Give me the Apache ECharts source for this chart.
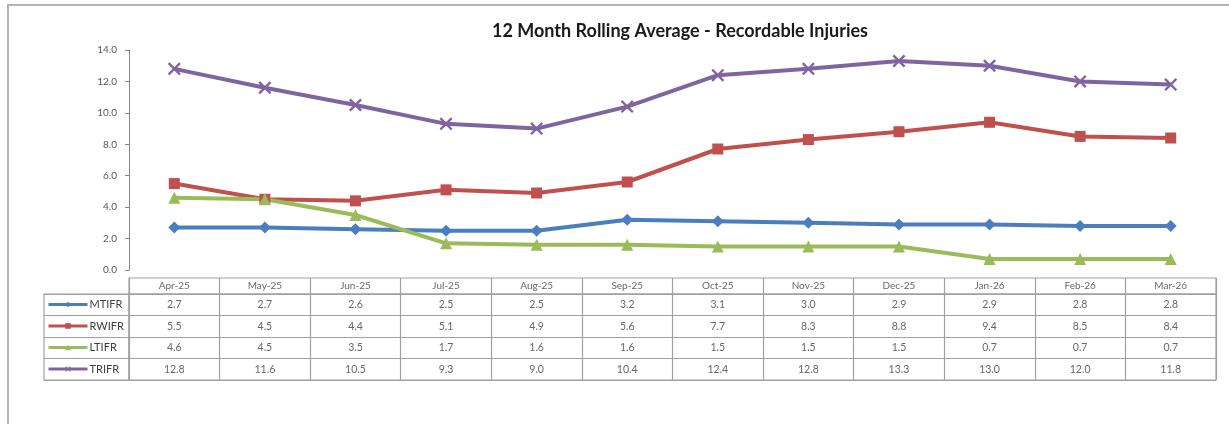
<!DOCTYPE html>
<html>
<head>
<meta charset="utf-8">
<script src="https://cdn.jsdelivr.net/npm/echarts@6/dist/echarts.min.js"></script>
<style>
  html, body { margin: 0; padding: 0; background: #fff; overflow: hidden; }
  #frame { position: absolute; left: 7px; top: 4px; width: 1400px; height: 600px; border: 2px solid #b4b4b4; }
  #chart { position: absolute; left: 0; top: 0; width: 1229px; height: 424px; }
</style>
</head>
<body>
<div id="frame"></div>
<div id="chart"></div>
<script>
// data
const months = ['Apr-25', 'May-25', 'Jun-25', 'Jul-25', 'Aug-25', 'Sep-25', 'Oct-25', 'Nov-25', 'Dec-25', 'Jan-26', 'Feb-26', 'Mar-26'];
const seriesNames = ['MTIFR', 'RWIFR', 'LTIFR', 'TRIFR'];
const mtifr = [2.7, 2.7, 2.6, 2.5, 2.5, 3.2, 3.1, 3.0, 2.9, 2.9, 2.8, 2.8];
const rwifr = [5.5, 4.5, 4.4, 5.1, 4.9, 5.6, 7.7, 8.3, 8.8, 9.4, 8.5, 8.4];
const ltifr = [4.6, 4.5, 3.5, 1.7, 1.6, 1.6, 1.5, 1.5, 1.5, 0.7, 0.7, 0.7];
const trifr = [12.8, 11.6, 10.5, 9.3, 9.0, 10.4, 12.4, 12.8, 13.3, 13.0, 12.0, 11.8];

const allValues = [mtifr, rwifr, ltifr, trifr];
const colors = ['#4a7ebf', '#c0504d', '#9bbb59', '#8064a2'];
const symbols = ['diamond', 'rect', 'triangle',
  'path://M0,1.3L1.3,0L5,3.7L8.7,0L10,1.3L6.3,5L10,8.7L8.7,10L5,6.3L1.3,10L0,8.7L3.7,5Z'];
const symbolSizes = [12, 11, 12, 13];

const FONT = 'Lato';
const gridLine = '#a0a0a0';

var myChart = echarts.init(document.getElementById('chart'));

// table cells: [column, row, value]
let cells = [];
allValues.forEach(function (arr, r) {
  arr.forEach(function (v, c) { cells.push([c, r, v]); });
});

let lineSeries = seriesNames.map(function (name, i) {
  return {
    name: name,
    type: 'line',
    xAxisIndex: 0,
    yAxisIndex: 0,
    data: allValues[i],
    symbol: symbols[i],
    symbolSize: symbolSizes[i],
    lineStyle: { width: 4, color: colors[i] },
    itemStyle: { color: colors[i] },
    emphasis: { disabled: true },
    animation: false
  };
});

var option = {
  backgroundColor: 'transparent',
  textStyle: { fontFamily: FONT },
  title: {
    text: '12 Month Rolling Average - Recordable Injuries',
    left: 675,
    top: 17,
    textAlign: 'center',
    textStyle: { fontFamily: FONT, fontSize: 18, fontWeight: 'bold', color: '#1a1a1a' }
  },
  legend: {
    data: seriesNames,
    orient: 'vertical',
    left: 47,
    top: 299,
    padding: 0,
    itemWidth: 39,
    itemHeight: 7,
    itemGap: 10.5,
    selectedMode: false,
    lineStyle: { width: 3 },
    textStyle: { fontFamily: FONT, fontSize: 11, color: '#404040', padding: [0, 0, 0, -3] }
  },
  grid: [
    { left: 129, right: 13, top: 50, bottom: 154 },
    { left: 129, right: 13, top: 278, height: 16, show: true, borderColor: gridLine, borderWidth: 1.2 },
    { left: 129, right: 13, top: 294, height: 86, show: true, borderColor: gridLine, borderWidth: 1.2 },
    { left: 44, width: 85, top: 294, height: 86, show: true, borderColor: gridLine, borderWidth: 1.2 }
  ],
  xAxis: [
    { gridIndex: 0, type: 'category', data: months, boundaryGap: true, show: false },
    { gridIndex: 1, type: 'category', data: months, boundaryGap: true,
      axisLine: { show: false }, axisTick: { show: false }, axisLabel: { show: false },
      splitLine: { show: true, lineStyle: { color: gridLine, width: 1.2 } } },
    { gridIndex: 2, type: 'category', data: months, boundaryGap: true,
      axisLine: { show: false }, axisTick: { show: false }, axisLabel: { show: false },
      splitLine: { show: true, lineStyle: { color: gridLine, width: 1.2 } } },
    { gridIndex: 3, type: 'category', data: [''], show: false }
  ],
  yAxis: [
    { gridIndex: 0, type: 'value', min: 0, max: 14, interval: 2,
      axisLine: { show: true, lineStyle: { color: '#868686', width: 1 } },
      axisTick: { show: true, length: 4, lineStyle: { color: '#868686' } },
      splitLine: { show: false },
      axisLabel: { margin: 12, fontFamily: FONT, fontSize: 10, color: '#595959',
        formatter: function (v) { return v.toFixed(1); } } },
    { gridIndex: 1, type: 'category', data: [''], show: false },
    { gridIndex: 2, type: 'category', data: seriesNames, inverse: true,
      axisLine: { show: false }, axisTick: { show: false }, axisLabel: { show: false },
      splitLine: { show: true, lineStyle: { color: gridLine, width: 1.2 } } },
    { gridIndex: 3, type: 'category', data: seriesNames, inverse: true,
      axisLine: { show: false }, axisTick: { show: false }, axisLabel: { show: false },
      splitLine: { show: true, lineStyle: { color: gridLine, width: 1.2 } } }
  ],
  series: lineSeries.concat([
    {
      type: 'scatter',
      xAxisIndex: 1,
      yAxisIndex: 1,
      symbolSize: 0,
      silent: true,
      animation: false,
      data: months.map(function (m, i) { return [i, 0, m]; }),
      label: { show: true, position: 'inside', fontFamily: FONT, fontSize: 10, color: '#404040',
        formatter: function (p) { return p.data[2]; } }
    },
    {
      type: 'scatter',
      xAxisIndex: 2,
      yAxisIndex: 2,
      symbolSize: 0,
      silent: true,
      animation: false,
      data: cells,
      label: { show: true, position: 'inside', fontFamily: FONT, fontSize: 10.5, color: '#404040',
        formatter: function (p) { return p.data[2].toFixed(1); } }
    }
  ])
};

myChart.setOption(option);
</script>
</body>
</html>
